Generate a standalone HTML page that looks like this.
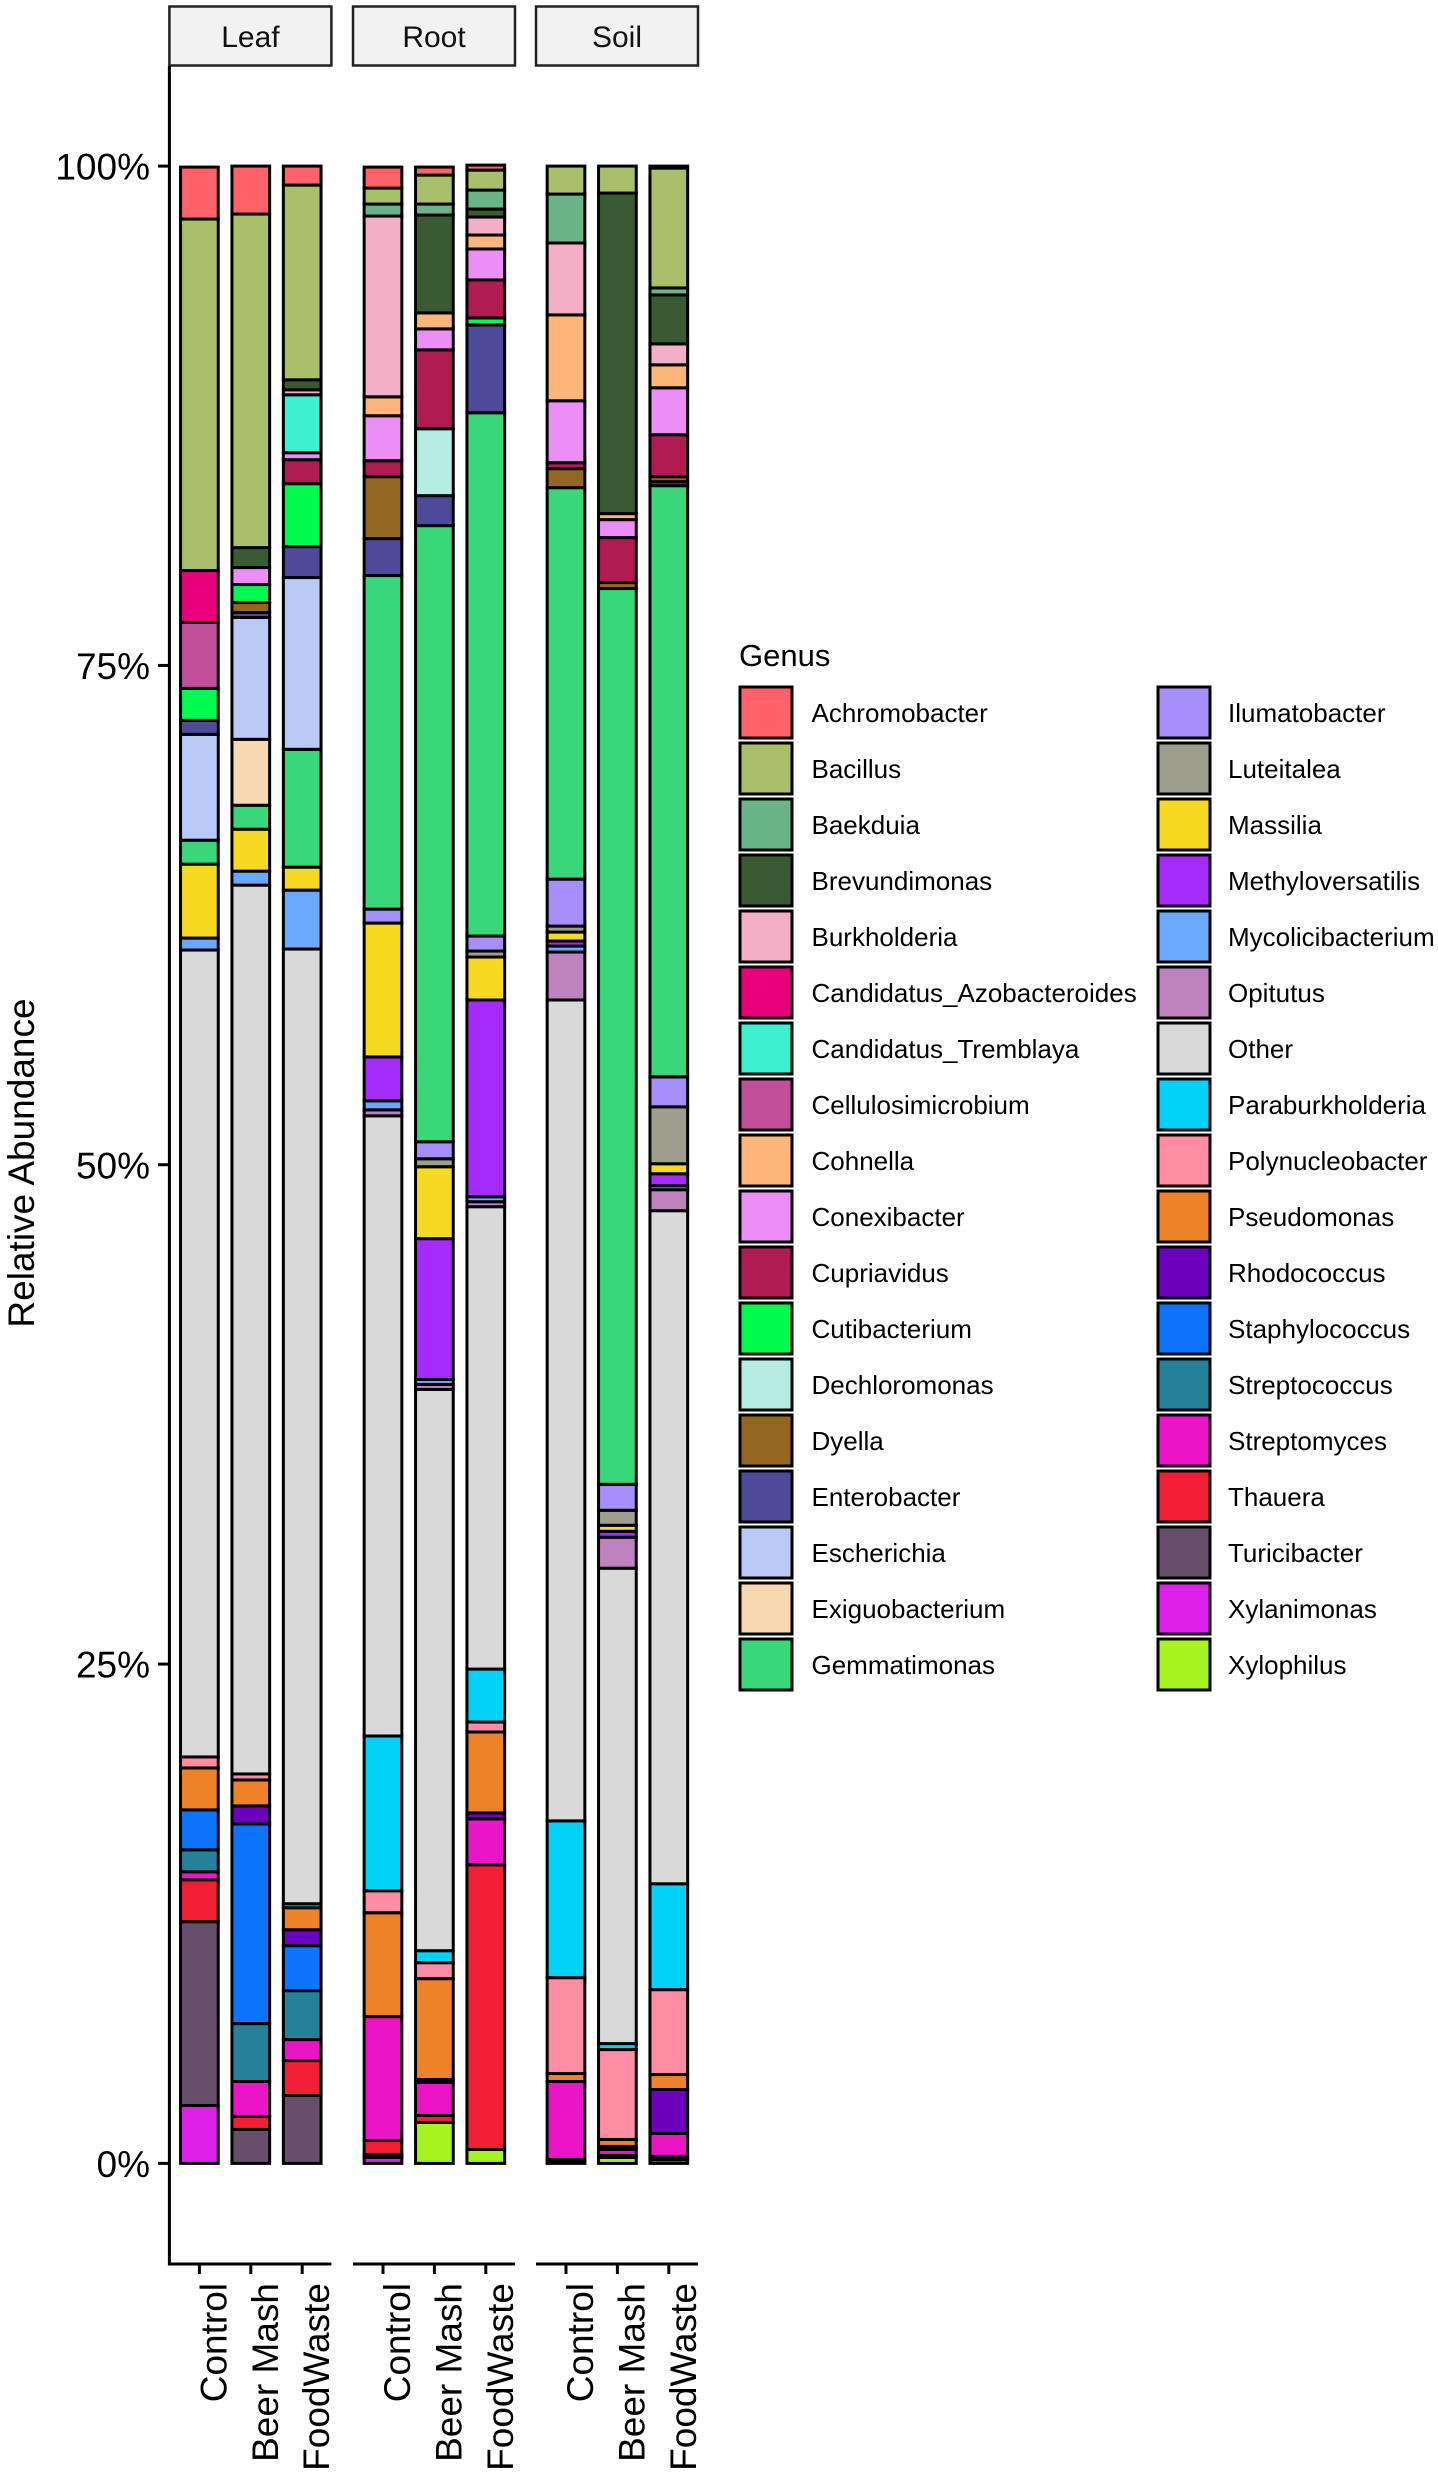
<!DOCTYPE html>
<html><head><meta charset="utf-8"><style>
html,body{margin:0;padding:0;background:#fff}
svg{display:block;font-family:"Liberation Sans",Arial,sans-serif}
</style></head><body>
<svg id="chart" width="1438" height="2480" viewBox="0 0 1438 2480" xmlns="http://www.w3.org/2000/svg">
<rect x="0" y="0" width="1438" height="2480" fill="#fff"/>
<g id="strips"></g>
<g id="axes"></g>
<g id="bars"></g>
<g id="legend"></g>
<text transform="translate(34,1163) rotate(-90)" text-anchor="middle" font-size="37" fill="#000">Relative Abundance</text>
<text x="739" y="666" font-size="31" fill="#000">Genus</text>
</svg>
<script>
const genera = ["Achromobacter","Bacillus","Baekduia","Brevundimonas","Burkholderia","Candidatus_Azobacteroides","Candidatus_Tremblaya","Cellulosimicrobium","Cohnella","Conexibacter","Cupriavidus","Cutibacterium","Dechloromonas","Dyella","Enterobacter","Escherichia","Exiguobacterium","Gemmatimonas","Ilumatobacter","Luteitalea","Massilia","Methyloversatilis","Mycolicibacterium","Opitutus","Other","Paraburkholderia","Polynucleobacter","Pseudomonas","Rhodococcus","Staphylococcus","Streptococcus","Streptomyces","Thauera","Turicibacter","Xylanimonas","Xylophilus"];
const colors = ["#FF6369","#A9BF69","#6AB587","#3A5A34","#F2AFC6","#E8007A","#3CF0D0","#C14E98","#FDB579","#EB8EF5","#B01C51","#00FB4F","#B6EDE2","#936621","#4D4A9A","#BBC9F7","#F7D8B1","#3AD77A","#A68FF8","#9E9E8E","#F6DA22","#A42BFB","#69A8FC","#BE82BF","#D9D9D9","#02D2F7","#FE8CA3","#EE8228","#6D00BD","#0E74FC","#25809A","#EC14C7","#F01F35","#674E6B","#DD21EB","#A7F221"];
const panels = ["Leaf","Root","Soil"];
const treatments = ["Control","Beer Mash","FoodWaste"];
const yTicks = [0,25,50,75,100];
const yTickLabels = ["0%","25%","50%","75%","100%"];
const leafControl = [2.6,17.6,0,0,0,2.6,0,3.3,0,0,0,1.6,0,0,0.7,5.3,0,1.2,0,0,3.7,0,0.6,0,40.4,0,0.55,2.1,0,2.0,1.1,0.4,2.1,9.2,2.9,0];
const leafBeerMash = [2.4,16.7,0,1.0,0,0,0,0,0,0.85,0,0.9,0,0.5,0.25,6.1,3.3,1.2,0,0,2.1,0,0.7,0,44.5,0,0.3,1.3,0.9,10.0,2.9,1.75,0.65,1.7,0,0];
const leafFoodWaste = [0.95,9.75,0,0.5,0.25,0,2.9,0,0,0.35,1.2,3.15,0,0,1.55,8.6,0,5.9,0,0,1.15,0,2.95,0,47.8,0.2,0,1.1,0.8,2.25,2.45,1.05,1.75,3.4,0,0];
const rootControl = [1.05,0.8,0.6,0,9.05,0,0,0,0.95,2.25,0.8,0,0,3.1,1.85,0,0,16.7,0.7,0,6.7,2.2,0.45,0.3,31.05,7.75,1.1,5.2,0,0,0,6.2,0.7,0.15,0.3,0];
const rootBeerMash = [0.4,1.45,0.55,4.9,0,0,0,0,0.8,1.05,3.95,0,3.35,0,1.5,0,0,30.85,0.85,0.4,3.6,7.05,0.25,0.25,28.1,0.6,0.8,5.05,0.15,0,0,1.65,0.35,0,0,2.05];
const rootFoodWaste = [0.25,1.0,0.95,0.4,0.9,0,0,0,0.7,1.55,1.9,0.35,0,0,4.4,0,0,26.2,0.75,0.3,2.15,9.85,0.25,0.25,23.15,2.65,0.5,4.05,0.3,0,0,2.3,14.25,0,0,0.7];
const soilControl = [0,1.4,2.45,0,3.6,0,0,0,4.3,3.1,0.3,0,0,0.95,0,0,0,19.6,2.35,0.3,0.45,0.25,0.3,2.4,41.1,7.85,4.8,0.4,0,0,0,3.9,0.1,0.1,0,0];
const soilBeerMash = [0,1.35,0,16.05,0,0,0,0,0.3,0.9,2.25,0,0,0.3,0,0,0,44.85,1.3,0.75,0.3,0.3,0,1.55,23.8,0.3,4.5,0.35,0.15,0,0,0.3,0.1,0,0,0.3];
const soilFoodWaste = [0.1,6.0,0.35,2.45,1.05,0,0,0,1.15,2.35,2.1,0,0,0.25,0.2,0,0,29.6,1.5,2.85,0.5,0.6,0.2,1.05,33.7,5.3,4.25,0.75,2.2,0,0,1.15,0.15,0.2,0,0];
const samples = [[leafControl,leafBeerMash,leafFoodWaste],[rootControl,rootBeerMash,rootFoodWaste],[soilControl,soilBeerMash,soilFoodWaste]];

const NS="http://www.w3.org/2000/svg";
function mk(tag,attrs,parent){const e=document.createElementNS(NS,tag);for(const k in attrs)e.setAttribute(k,attrs[k]);parent.appendChild(e);return e;}
const Y0=2163.4, Y100=166.1;
function yScale(v){return Y0-(Y0-Y100)*v/100;}
const panelX=[169.4,353,536], panelW=162;
function xCenter(p,t){return panelX[p]+30+t*51.4;}
const barW=37.7;

const strips=document.getElementById('strips');
panels.forEach((p,i)=>{
  const r=mk('rect',{x:panelX[i],y:6.5,width:panelW,height:59,fill:'#F2F2F2',stroke:'#222','stroke-width':2.5},strips);
  
  
  const t=mk('text',{x:panelX[i]+panelW/2,y:47,'text-anchor':'middle','font-size':30,fill:'#111'},strips);
  t.textContent=p;
  
  
});

const axes=document.getElementById('axes');
const yl=mk('line',{x1:169.4,y1:66,x2:169.4,y2:2265.5,stroke:'#000','stroke-width':3},axes);


yTicks.forEach((v,i)=>{
  const y=yScale(v);
  const tk=mk('line',{x1:158,y1:y,x2:169.4,y2:y,stroke:'#000','stroke-width':3},axes);
  
  
  const t=mk('text',{x:150,y:y+13.5,'text-anchor':'end','font-size':37,fill:'#000'},axes);
  t.textContent=yTickLabels[i];
  
  
});
panels.forEach((p,i)=>{
  const xl=mk('line',{x1:panelX[i],y1:2264,x2:panelX[i]+panelW,y2:2264,stroke:'#000','stroke-width':3},axes);
  
  
  treatments.forEach((tr,j)=>{
    const x=xCenter(i,j);
    const tk=mk('line',{x1:x,y1:2264,x2:x,y2:2274,stroke:'#000','stroke-width':3},axes);
    
    
    const t=mk('text',{transform:'translate('+(x+27)+',2283) rotate(-90)','text-anchor':'end','font-size':37,fill:'#000'},axes);
    t.textContent=tr;
    
    
  });
});

const bars=document.getElementById('bars');
samples.forEach((row,i)=>{
  row.forEach((vals,j)=>{
    const x=xCenter(i,j)-barW/2;
    let cum=0;
    for(let k=vals.length-1;k>=0;k--){
      const v=vals[k];
      if(v<=0) continue;
      const yb=yScale(cum), yt=yScale(cum+v);
      const r=mk('rect',{x:x,y:yt,width:barW,height:yb-yt,fill:colors[k],stroke:'#000','stroke-width':3},bars);
      
      
      cum+=v;
    }
  });
});

const legend=document.getElementById('legend');
genera.forEach((g,i)=>{
  const col=i<18?0:1, rowI=i%18;
  const kx=col?1158:740, ky=687+56*rowI;
  const r=mk('rect',{x:kx,y:ky,width:52,height:51,fill:colors[i],stroke:'#000','stroke-width':3},legend);
  
  
  const t=mk('text',{x:col?1228:811.5,y:ky+35,'font-size':26,fill:'#000'},legend);
  t.textContent=g;
  
  
});
</script>
</body></html>
